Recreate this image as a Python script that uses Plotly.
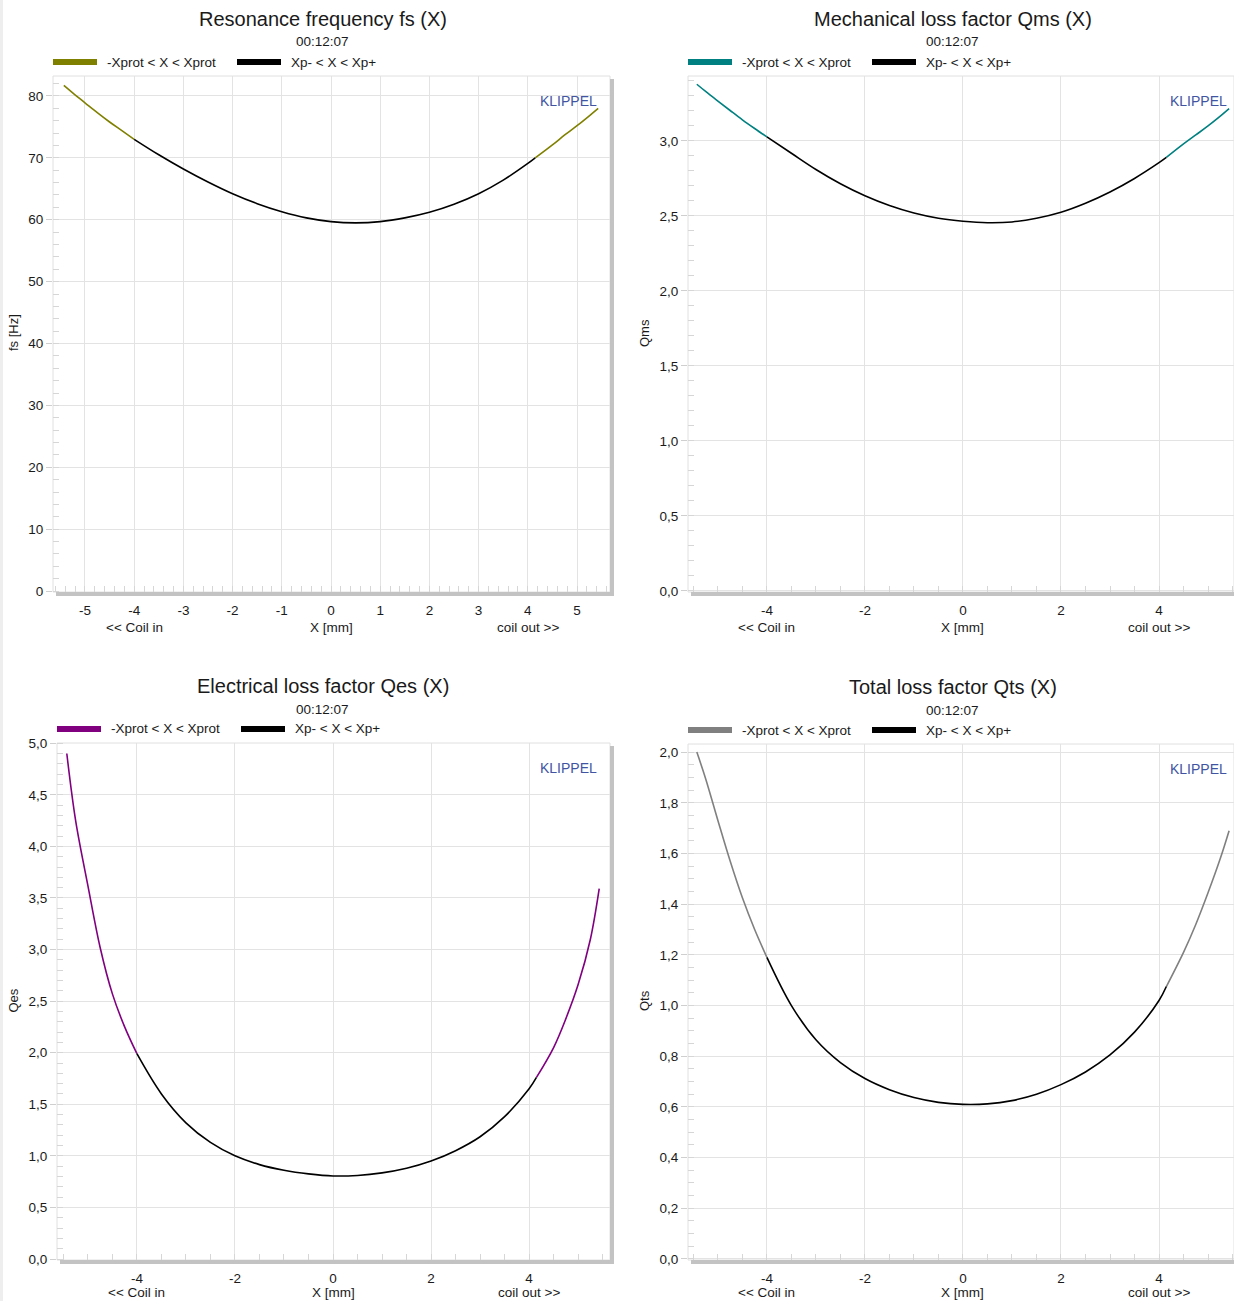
import plotly.graph_objects as go

W, H = 1234, 1301

# ---------------- data ----------------
X_MM = [-5.43, -5.25, -5.0, -4.75, -4.5, -4.25, -4.0, -3.5, -3.0, -2.5, -2.0, -1.5, -1.0, -0.5,
        0.0, 0.5, 1.0, 1.5, 2.0, 2.5, 3.0, 3.5, 4.0, 4.15, 4.5, 4.75, 5.0, 5.25, 5.43]

FS_HZ = [81.7, 80.5, 78.9, 77.3, 75.8, 74.4, 73.0, 70.5, 68.2, 66.1, 64.2, 62.6, 61.3, 60.3,
         59.7, 59.5, 59.7, 60.3, 61.2, 62.5, 64.2, 66.4, 69.1, 70.0, 72.1, 73.7, 75.2, 76.8, 78.0]

QMS = [3.378, 3.330, 3.266, 3.203, 3.141, 3.083, 3.027, 2.918, 2.81, 2.715, 2.635, 2.57, 2.52, 2.485,
       2.465, 2.455, 2.46, 2.485, 2.525, 2.585, 2.66, 2.75, 2.855, 2.89, 2.98, 3.04, 3.10, 3.165, 3.215]

QES = [4.90, 4.25, 3.62, 3.02, 2.57, 2.25, 1.99, 1.60, 1.32, 1.13, 1.00, 0.915, 0.86, 0.825,
       0.805, 0.81, 0.835, 0.88, 0.95, 1.05, 1.185, 1.38, 1.65, 1.76, 2.05, 2.33, 2.66, 3.10, 3.59]

QTS = [2.00, 1.895, 1.73, 1.57, 1.425, 1.30, 1.19, 1.00, 0.865, 0.775, 0.712, 0.668, 0.637, 0.618,
       0.61, 0.612, 0.625, 0.65, 0.688, 0.738, 0.805, 0.895, 1.02, 1.075, 1.21, 1.32, 1.445, 1.58, 1.69]

XP_MINUS = -4.0
XP_PLUS = 4.15

TITLES = ["Resonance frequency fs (X)", "Mechanical loss factor Qms (X)",
          "Electrical loss factor Qes (X)", "Total loss factor Qts (X)"]
SUBTITLE = "00:12:07"
LEGEND_LABELS = ["-Xprot < X < Xprot", "Xp- < X < Xp+"]
Y_TITLES = ["fs [Hz]", "Qms", "Qes", "Qts"]
X_TITLE = "X [mm]"
X_SIDE_LABELS = ["<< Coil in", "coil out >>"]
WATERMARK = "KLIPPEL"

XTICKS_FS = [-5, -4, -3, -2, -1, 0, 1, 2, 3, 4, 5]
XTICKS_Q = [-4, -2, 0, 2, 4]
YTICKS_FS = [0, 10, 20, 30, 40, 50, 60, 70, 80]
YTICKS_QMS = [0.0, 0.5, 1.0, 1.5, 2.0, 2.5, 3.0]
YTICKS_QES = [0.0, 0.5, 1.0, 1.5, 2.0, 2.5, 3.0, 3.5, 4.0, 4.5, 5.0]
YTICKS_QTS = [0.0, 0.2, 0.4, 0.6, 0.8, 1.0, 1.2, 1.4, 1.6, 1.8, 2.0]

COLORS = ["#808000", "#008080", "#800080", "#808080"]

# ---------------- layout helpers ----------------
FONT = "Liberation Sans, Arial, sans-serif"
TXT = "#1a1a1a"


def fx(px):
    return px / W


def fy(py):
    return 1 - py / H


panels = [
    dict(box=(53, 610, 76, 592), xr=[-5.65, 5.67], yr=[-0.16, 83.23], xt=XTICKS_FS, yt=YTICKS_FS,
         yfmt="{:d}", xminor=0.2, yminor=2, ys=FS_HZ, cx=323, ytx=13, wm=599, row=35),
    dict(box=(688, 1234, 76, 592), xr=[-5.61, 5.53], yr=[-0.0067, 3.433], xt=XTICKS_Q, yt=YTICKS_QMS,
         yfmt="{:.1f}", xminor=0.5, yminor=0.1, ys=QMS, cx=953, ytx=644, wm=1229, row=35),
    dict(box=(57, 610, 743, 1260), xr=[-5.63, 5.65], yr=[-0.0097, 5.002], xt=XTICKS_Q, yt=YTICKS_QES,
         yfmt="{:.1f}", xminor=0.5, yminor=0.1, ys=QES, cx=323, ytx=13, wm=599, row=32),
    dict(box=(688, 1234, 744, 1260), xr=[-5.61, 5.53], yr=[-0.004, 2.032], xt=XTICKS_Q, yt=YTICKS_QTS,
         yfmt="{:.1f}", xminor=0.5, yminor=0.05, ys=QTS, cx=953, ytx=644, wm=1229, row=32),
]

fig = go.Figure()
shapes = []
annotations = []

shapes.append(dict(type="rect", xref="paper", yref="paper", x0=0, x1=fx(3), y0=0, y1=1,
                   fillcolor="#eeeeee", line=dict(width=0), layer="below"))

for i, p in enumerate(panels):
    n = "" if i == 0 else str(i + 1)
    xa, ya = "x" + n, "y" + n
    L, R, T, B = p["box"]
    ys = p["ys"]

    ox, oy, ix, iy = [], [], [], []
    for xv, yv in zip(X_MM, ys):
        if xv <= XP_MINUS:
            ox.append(xv); oy.append(yv)
    ox.append(None); oy.append(None)
    for xv, yv in zip(X_MM, ys):
        if xv >= XP_PLUS:
            ox.append(xv); oy.append(yv)
        if XP_MINUS <= xv <= XP_PLUS:
            ix.append(xv); iy.append(yv)

    fig.add_trace(go.Scatter(x=ox, y=oy, mode="lines", xaxis=xa, yaxis=ya, showlegend=False,
                             line=dict(color=COLORS[i], width=1.6, shape="spline", smoothing=1.0),
                             connectgaps=False, hoverinfo="skip"))
    fig.add_trace(go.Scatter(x=ix, y=iy, mode="lines", xaxis=xa, yaxis=ya, showlegend=False,
                             line=dict(color="black", width=1.6, shape="spline", smoothing=1.0),
                             hoverinfo="skip"))

    xaxis = dict(
        domain=[fx(L), fx(R)], range=p["xr"], anchor=ya, automargin=False,
        tickmode="array", tickvals=p["xt"], ticktext=[str(v) for v in p["xt"]],
        ticks="outside", ticklen=6, tickcolor="rgba(0,0,0,0)",
        showgrid=True, gridcolor="#e3e3e3", gridwidth=1,
        zeroline=False, showline=False, fixedrange=True,
        tickfont=dict(family=FONT, size=13.5, color=TXT),
        minor=dict(tickmode="linear", tick0=0, dtick=p["xminor"], ticks="inside", ticklen=6,
                   tickcolor="#d6d6d6", tickwidth=1, showgrid=False),
    )
    yaxis = dict(
        domain=[fy(B), fy(T)], range=p["yr"], anchor=xa, automargin=False,
        tickmode="array", tickvals=p["yt"],
        ticktext=[p["yfmt"].format(v).replace(".", ",") for v in p["yt"]],
        ticks="outside", ticklen=6, tickcolor="#cfcfcf",
        showgrid=True, gridcolor="#e3e3e3", gridwidth=1,
        zeroline=False, showline=False, fixedrange=True,
        tickfont=dict(family=FONT, size=13.5, color=TXT),
        minor=dict(tickmode="linear", tick0=0, dtick=p["yminor"], ticks="inside", ticklen=6,
                   tickcolor="#d6d6d6", tickwidth=1, showgrid=False),
    )
    fig.update_layout(**{"xaxis" + n: xaxis, "yaxis" + n: yaxis})

    shapes.append(dict(type="rect", xref="paper", yref="paper", x0=fx(L), x1=fx(R), y0=fy(B), y1=fy(T),
                       line=dict(color="#e0e0e0", width=1), fillcolor="rgba(0,0,0,0)", layer="below"))
    shapes.append(dict(type="rect", xref="paper", yref="paper", x0=fx(R), x1=fx(R + 4),
                       y0=fy(B + 4), y1=fy(T + 3), fillcolor="#c3c3c3", line=dict(width=0)))
    shapes.append(dict(type="rect", xref="paper", yref="paper", x0=fx(L + 3), x1=fx(min(R + 4, W)),
                       y0=fy(B + 4), y1=fy(B), fillcolor="#c3c3c3", line=dict(width=0)))

    annotations.append(dict(text=TITLES[i], x=fx(p["cx"]), y=fy(T - 57), xref="paper", yref="paper",
                            xanchor="center", yanchor="middle", showarrow=False,
                            font=dict(family=FONT, size=20, color=TXT)))
    annotations.append(dict(text=SUBTITLE, x=fx(p["cx"] - 1), y=fy(T - 34), xref="paper", yref="paper",
                            xanchor="center", yanchor="middle", showarrow=False,
                            font=dict(family=FONT, size=13.5, color=TXT)))

    ly = T - 14
    for k, (col, lab) in enumerate(zip([COLORS[i], "black"], LEGEND_LABELS)):
        sx = L + k * 184
        shapes.append(dict(type="rect", xref="paper", yref="paper", x0=fx(sx), x1=fx(sx + 44),
                           y0=fy(ly + 3), y1=fy(ly - 3), fillcolor=col, line=dict(width=0)))
        annotations.append(dict(text=lab, x=fx(sx + 52), y=fy(ly), xref="paper", yref="paper",
                                xanchor="left", yanchor="middle", showarrow=False,
                                font=dict(family=FONT, size=13.5, color=TXT)))

    annotations.append(dict(text=WATERMARK, x=fx(p["wm"]), y=fy(T + 25), xref="paper",
                            yref="paper", xanchor="right", yanchor="middle", showarrow=False,
                            font=dict(family=FONT, size=14, color="#3f55a3")))

    annotations.append(dict(text=Y_TITLES[i], x=fx(p["ytx"]), y=fy((T + B) / 2 - 1), xref="paper",
                            yref="paper", xanchor="center", yanchor="middle", showarrow=False,
                            textangle=-90, font=dict(family=FONT, size=13, color=TXT)))

    row_y = fy(B + p["row"])
    for xv, lab in zip([XTICKS_Q[0], 0, XTICKS_Q[-1]], [X_SIDE_LABELS[0], X_TITLE, X_SIDE_LABELS[1]]):
        annotations.append(dict(text=lab, x=xv, y=row_y, xref=xa, yref="paper",
                                xanchor="center", yanchor="middle", showarrow=False,
                                font=dict(family=FONT, size=13.5, color=TXT)))

fig.update_layout(
    template="none",
    width=W, height=H, margin=dict(l=0, r=0, t=0, b=0, pad=0, autoexpand=False),
    paper_bgcolor="white", plot_bgcolor="white",
    separators=", ", showlegend=False,
    shapes=shapes, annotations=annotations,
    font=dict(family=FONT, color=TXT),
)

fig.write_html("out.html")
